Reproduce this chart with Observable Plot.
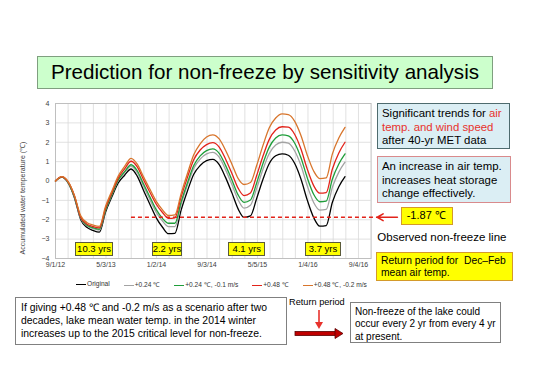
<!DOCTYPE html>
<html>
<head>
<meta charset="utf-8">
<script src="https://cdn.jsdelivr.net/npm/d3@7"></script>
<script src="https://cdn.jsdelivr.net/npm/@observablehq/plot@0.6"></script>
<style>
  html, body { margin: 0; padding: 0; background: #fff; }
  body { width: 550px; height: 389px; position: relative; overflow: hidden;
         font-family: Arial, "Liberation Sans", sans-serif; color: #000; }
  .abs { position: absolute; box-sizing: border-box; white-space: nowrap; }
  .title { left: 37px; top: 56px; width: 456px; height: 33px; background: #ccffcc;
           border: 1.5px solid #7f9f7f; font-size: 20.6px; line-height: 30px; text-align: center; }
  .blue { background: #dbeef4; font-size: 11.4px; line-height: 13.5px; padding: 3px 0 0 4px; }
  .yel { background: #ffff00; }
  .yrs { background: #ffff00; border: 1px solid #5a5a3a; font-size: 9.5px; line-height: 12px; text-align: center; top: 242px; height: 14px; }
  .white { background: #fff; border: 1px solid #808080; }
  .red { color: #e8322c; }
  #chart { left: 0; top: 95px; }
  #legend { left: 76px; top: 280px; display: flex; gap: 14px; font-size: 6.6px; color: #333; }
  #legend span.sw { display: inline-block; width: 10px; height: 0; border-top: 1.3px solid; vertical-align: middle; margin-right: 1px; }
</style>
</head>
<body>
<script>
// ---- data ----
const months = ["2012-09","2012-10","2012-11","2012-12","2013-01","2013-02","2013-03","2013-04","2013-05","2013-06","2013-07","2013-08",
  "2013-09","2013-10","2013-11","2013-12","2014-01","2014-02","2014-03","2014-04","2014-05","2014-06","2014-07","2014-08",
  "2014-09","2014-10","2014-11","2014-12","2015-01","2015-02","2015-03","2015-04","2015-05","2015-06","2015-07","2015-08",
  "2015-09","2015-10","2015-11","2015-12","2016-01","2016-02","2016-03","2016-04","2016-05","2016-06","2016-07"];
const original = [0.0,0.2,-0.1,-0.85,-2.0,-2.4,-2.55,-2.64,-1.6,-0.8,-0.1,0.3,
  0.62,0.25,-0.5,-1.2,-1.9,-2.4,-2.72,-2.7,-1.5,-0.5,0.35,0.8,
  1.05,1.12,0.85,0.2,-0.6,-1.45,-1.88,-1.8,-0.9,0.1,0.9,1.3,
  1.4,1.33,0.9,0.1,-1.0,-1.9,-2.33,-2.3,-1.1,-0.3,0.22];
const plus024 = [0.0,0.2,-0.08,-0.81,-1.94,-2.32,-2.45,-2.54,-1.5,-0.7,0.02,0.43,
  0.77,0.43,-0.28,-0.95,-1.62,-2.08,-2.35,-2.35,-1.2,-0.2,0.65,1.13,
  1.4,1.48,1.23,0.6,-0.17,-0.98,-1.4,-1.25,-0.38,0.62,1.42,1.86,
  2.0,1.95,1.55,0.8,-0.26,-1.12,-1.5,-1.47,-0.32,0.46,0.97];
const plus024wind = [0.0,0.2,-0.07,-0.79,-1.9,-2.28,-2.41,-2.49,-1.48,-0.68,0.05,0.48,
  0.84,0.53,-0.17,-0.82,-1.48,-1.94,-2.18,-2.18,-1.08,-0.08,0.8,1.3,
  1.57,1.66,1.43,0.82,0.07,-0.73,-1.1,-0.98,-0.1,0.92,1.75,2.22,
  2.38,2.33,1.95,1.2,0.15,-0.7,-1.07,-1.04,0.1,0.88,1.4];
const plus048 = [0.0,0.22,-0.05,-0.75,-1.88,-2.23,-2.35,-2.42,-1.4,-0.6,0.15,0.63,
  1.02,0.73,0.05,-0.58,-1.2,-1.64,-1.93,-1.9,-0.82,0.2,1.1,1.6,
  1.88,1.98,1.75,1.15,0.4,-0.38,-0.75,-0.62,0.28,1.3,2.15,2.63,
  2.8,2.78,2.4,1.65,0.6,-0.25,-0.63,-0.6,0.62,1.45,2.0];
const plus048wind = [0.0,0.23,-0.03,-0.73,-1.8,-2.15,-2.27,-2.34,-1.3,-0.5,0.25,0.75,
  1.17,0.87,0.2,-0.42,-1.05,-1.5,-1.78,-1.75,-0.65,0.4,1.35,1.92,
  2.27,2.38,2.17,1.6,0.88,0.12,-0.18,-0.08,0.8,1.85,2.75,3.25,
  3.46,3.43,3.08,2.35,1.32,0.5,0.12,0.16,1.4,2.22,2.77];
const seriesNames = ["Original", "+0.24 \u2103", "+0.24 \u2103, -0.1 m/s", "+0.48 \u2103", "+0.48 \u2103, -0.2 m/s"];
const seriesColors = ["#000000", "#a3a3a3", "#1f9e3a", "#e2231a", "#d8752c"];
const xTickDates = ["2012-09-01","2013-05-03","2014-01-02","2014-09-03","2015-05-05","2016-01-04","2016-09-04"];
const yTicks = [-4,-3,-2,-1,0,1,2,3,4];
const nonFreeze = -1.87;
const returnPeriods = ["10.3 yrs", "2.2 yrs", "4.1 yrs", "3.7 yrs"];

// ---- build table ----
const seriesValues = [original, plus024, plus024wind, plus048, plus048wind];
const rows = [];
seriesValues.forEach((vals, i) => vals.forEach((v, j) => rows.push({date: new Date(months[j] + "-01T00:00:00Z"), value: v, series: seriesNames[i]})));
const xDomain = [new Date("2012-09-01T00:00:00Z"), new Date("2016-11-04T00:00:00Z")];
const minorGrid = d3.range(1, 25).map(k => new Date(+xDomain[0] + k * 61 * 864e5));
const fmt = d => `${d.getUTCMonth() + 1}/${d.getUTCDate()}/${String(d.getUTCFullYear()).slice(2)}`;
const lineRow = [{y: nonFreeze, x1: new Date("2013-09-03T00:00:00Z"), x2: new Date("2016-12-05T00:00:00Z")}];
const arrowRow = [{y: nonFreeze, x1: new Date("2017-03-11T00:00:00Z"), x2: new Date("2016-12-04T00:00:00Z")}];

const chart = Plot.plot({
  width: 410, height: 188,
  marginLeft: 55, marginRight: 39.4, marginTop: 8, marginBottom: 25,
  x: {type: "utc", domain: xDomain},
  y: {domain: [-4, 4]},
  color: {domain: seriesNames, range: seriesColors},
  style: {fontFamily: "Arial, 'Liberation Sans', sans-serif", fontSize: "7px", background: "transparent", overflow: "visible"},
  marks: [
    Plot.ruleY(yTicks, {stroke: "#d9d9d9", strokeWidth: 0.8}),
    Plot.ruleX(minorGrid, {stroke: "#d9d9d9", strokeWidth: 0.8}),
    Plot.frame({stroke: "#bfbfbf"}),
    Plot.axisY(yTicks, {tickSize: 0, tickPadding: 6, label: null, fill: "#404040"}),
    Plot.axisX(xTickDates.map(s => new Date(s + "T00:00:00Z")), {tickSize: 0, tickPadding: 4, tickFormat: fmt, label: null, fill: "#404040"}),
    Plot.line(rows, {x: "date", y: "value", z: "series", stroke: "series", strokeWidth: 1.3, curve: "monotone-x"}),
    Plot.ruleY(lineRow, {y: "y", x1: "x1", x2: "x2", stroke: "#e2231a", strokeWidth: 1.3, strokeDasharray: "4,3"}),
    Plot.arrow(arrowRow, {x1: "x1", x2: "x2", y1: "y", y2: "y", stroke: "#e2231a", strokeWidth: 1.6, headLength: 7, bend: 0})
  ]
});
chart.id = "chart";
chart.classList.add("abs");
chart.style.position = "absolute";
document.body.appendChild(chart);

function div(cls, html, css) {
  const d = document.createElement("div");
  d.className = "abs " + cls;
  d.innerHTML = html;
  Object.assign(d.style, css || {});
  document.body.appendChild(d);
  return d;
}

div("title", "Prediction for non-freeze by sensitivity analysis");

// y axis title
div("", "Accumulated water temperature (\u2103)", {left: "22px", top: "198px", fontSize: "7px", color: "#404040",
  transform: "translate(-50%,-50%) rotate(-90deg)"});

// return period boxes
const yrsLeft = [75, 151.7, 228.3, 305];
const yrsW = [38, 30, 36.7, 36];
returnPeriods.forEach((t, i) => div("yrs", t, {left: yrsLeft[i] + "px", width: yrsW[i] + "px"}));

// legend
const leg = div("", "", {});
leg.id = "legend";
seriesNames.forEach((n, i) => {
  const s = document.createElement("span");
  s.innerHTML = `<span class="sw" style="border-color:${seriesColors[i]}"></span>${n}`;
  leg.appendChild(s);
});

// right side boxes
div("blue", 'Significant trends for <span class="red">air</span><br><span class="red">temp. and wind speed</span><br>after 40-yr MET data',
  {left: "377px", top: "103px", width: "133px", height: "46px", border: "1.5px solid #4e6b6e"});
div("blue", "An increase in air temp.<br>increases heat storage<br>change effectively.",
  {left: "377px", top: "156px", width: "134px", height: "47px", border: "1.5px solid #d98a8c"});
div("yel", "-1.87 \u2103", {left: "400.7px", top: "207.3px", width: "52.6px", height: "17.7px",
  border: "1.5px solid #d49a2a", fontSize: "11px", lineHeight: "15px", paddingLeft: "5px"});
div("", "Observed non-freeze line", {left: "377.3px", top: "229.5px", fontSize: "11.5px", lineHeight: "14px"});
div("yel", "Return period for&nbsp; Dec\u2013Feb<br>mean air temp.", {left: "376px", top: "252.3px", width: "136.7px", height: "28.4px",
  border: "1.5px solid #d49a2a", fontSize: "10.3px", lineHeight: "12px", padding: "2px 0 0 4px"});

// bottom boxes
div("white", "If giving +0.48 \u2103 and -0.2 m/s as a scenario after two<br>decades, lake mean water temp. in the 2014 winter<br>increases up to the 2015 critical level for non-freeze.",
  {left: "15px", top: "296.7px", width: "271.7px", height: "48.3px", fontSize: "10.4px", lineHeight: "13.3px", padding: "3px 0 0 5px"});
div("", "Return period", {left: "289px", top: "297px", fontSize: "9.2px", lineHeight: "11px"});
div("white", "Non-freeze of the lake could<br>occur every 2 yr from every 4 yr<br>at present.",
  {left: "350px", top: "301.7px", width: "151px", height: "41.6px", fontSize: "10px", lineHeight: "12.7px", padding: "3px 0 0 4px"});

// decorative arrows
const deco = document.createElementNS("http://www.w3.org/2000/svg", "svg");
deco.setAttribute("width", 550); deco.setAttribute("height", 389);
deco.style.position = "absolute"; deco.style.left = "0"; deco.style.top = "0"; deco.style.pointerEvents = "none";
deco.innerHTML = `
  <line x1="319" y1="310" x2="319" y2="324" stroke="#e8322c" stroke-width="1.6"/>
  <polygon points="315,322 323,322 319,329" fill="#e8322c"/>
  <rect x="295" y="331.5" width="41" height="4" fill="#c00000" stroke="#5a0000" stroke-width="0.8"/>
  <polygon points="335,328.5 343,333.5 335,338.5" fill="#c00000" stroke="#5a0000" stroke-width="0.8"/>`;
document.body.appendChild(deco);
</script>
</body>
</html>
